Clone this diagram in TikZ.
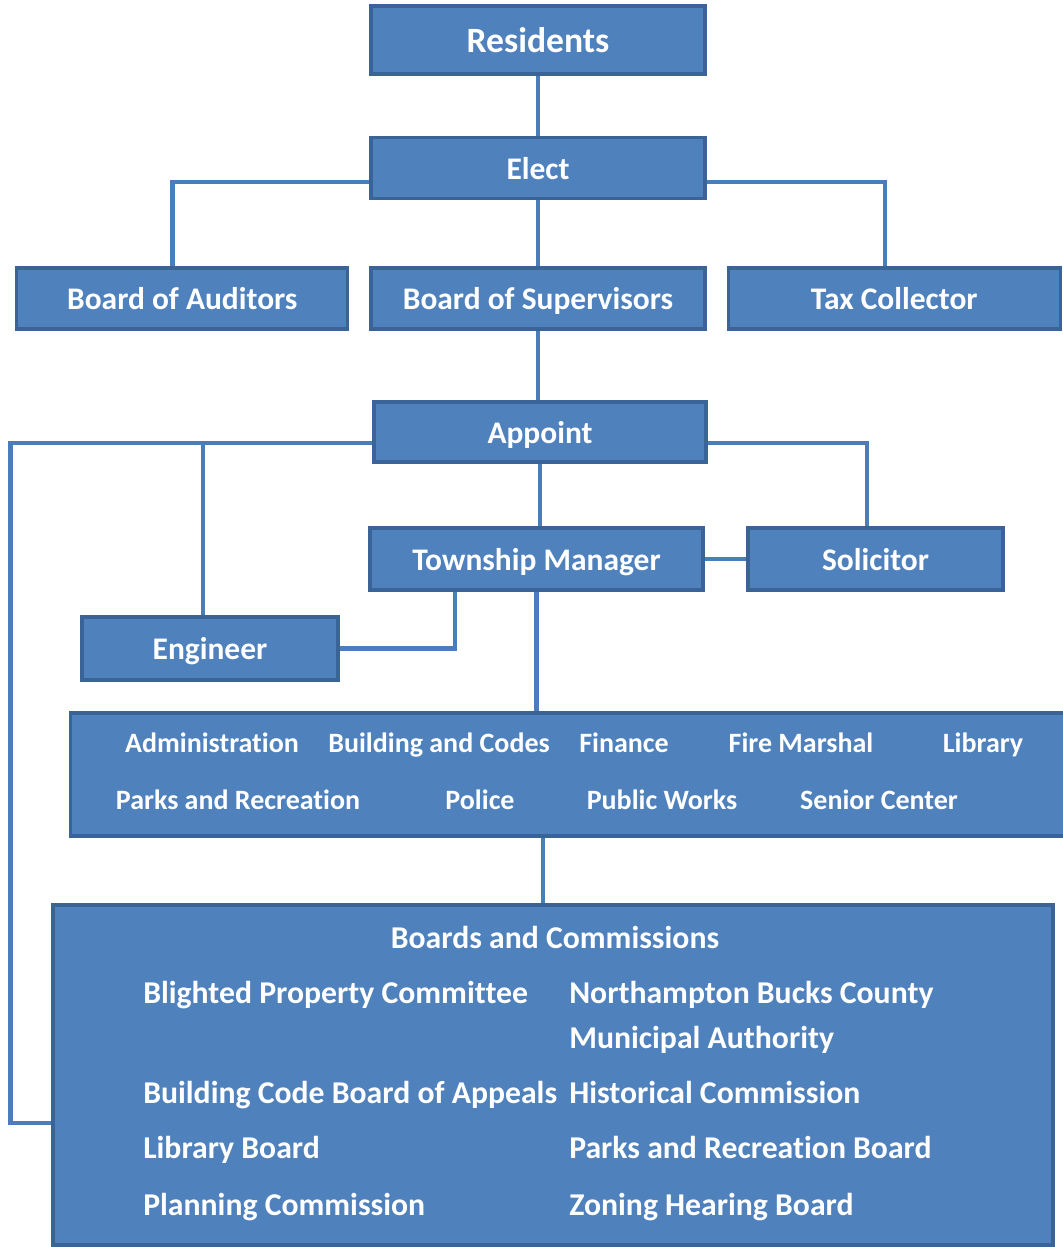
\documentclass[tikz,border=0pt]{standalone}
\usepackage{fontspec}
\setmainfont[Ligatures=NoCommon]{Carlito}
\usetikzlibrary{backgrounds,positioning}
\definecolor{orgfill}{HTML}{4F81BD}
\definecolor{orgline}{HTML}{3A6497}
\definecolor{orglink}{HTML}{4A7EBB}

\begin{document}
\begin{tikzpicture}[x=0.75pt,y=-0.75pt,node distance=15pt]
\tikzstyle{unit}=[rectangle,draw=orgline,fill=orgfill,line width=2.4pt,inner sep=0pt,
  text=white,text depth=0pt,font=\fontsize{23.6}{28}\selectfont\bfseries]
\tikzstyle{dept}=[text=white,inner sep=0pt,anchor=base,font=\fontsize{21}{25}\selectfont\bfseries]
\tikzstyle{brd}=[text=white,inner sep=0pt,anchor=base west,font=\fontsize{23.8}{28}\selectfont\bfseries]
\tikzstyle{link}=[draw=orglink,line width=3.4pt]

\useasboundingbox (0,0) rectangle (1063,1247);

% elected side
\node[unit,minimum width=250.5pt,minimum height=51pt,font=\fontsize{26.7}{31}\selectfont\bfseries] (residents) at (538,40) {Residents};
\node[unit,minimum width=250.5pt,minimum height=45.75pt] (elect) at (538,168) {Elect};
\node[unit,minimum width=250.5pt,minimum height=45.75pt] (supervisors) at (538,298.5) {Board of Supervisors};
\node[unit,minimum width=248.25pt,minimum height=45.75pt] (auditors) [left=of supervisors] {Board of Auditors};
\node[unit,minimum width=249pt,minimum height=45.75pt] (taxcoll) [right=of supervisors] {Tax Collector};

% appointed side
\node[unit,minimum width=249pt,minimum height=45pt] (appoint) at (540,432) {Appoint};
\node[unit,minimum width=249.75pt,minimum height=46.5pt] (manager) at (536.5,559) {Township Manager};
\node[unit,minimum width=191.25pt,minimum height=46.5pt] (solicitor) at (875.5,559) {Solicitor};
\node[unit,minimum width=192pt,minimum height=47.25pt] (engineer) at (210,648.5) {Engineer};

% departments
\node[unit,minimum width=748pt,minimum height=92.25pt] (depts) at (569.5,774.5) {};
\node[dept] (admin) at (212,752) {Administration};
\node[dept] (codes) at (439,752) {Building and Codes};
\node[dept] (finance) at (624,752) {Finance};
\node[dept] (fire) at (801,752) {Fire Marshal};
\node[dept] (library) at (983,752) {Library};
\node[dept] (parks) at (238,809) {Parks and Recreation};
\node[dept] (police) at (480,809) {Police};
\node[dept] (works) at (662,809) {Public Works};
\node[dept] (senior) at (879,809) {Senior Center};

% boards and commissions
\node[unit,minimum width=750pt,minimum height=255pt] (boards) at (553,1075) {};
\node[brd,anchor=base] (btitle) at (555,948) {Boards and Commissions};
\node[brd] (b1) at (143,1003) {Blighted Property Committee};
\node[brd] (b2) at (569,1003) {Northampton Bucks County};
\node[brd] (b2a) at (569,1048) {Municipal Authority};
\node[brd] (b3) at (143,1103) {Building Code Board of Appeals};
\node[brd] (b4) at (569,1103) {Historical Commission};
\node[brd] (b5) at (143,1158) {Library Board};
\node[brd] (b6) at (569,1158) {Parks and Recreation Board};
\node[brd] (b7) at (143,1215) {Planning Commission};
\node[brd] (b8) at (569,1215) {Zoning Hearing Board};

\begin{pgfonlayer}{background}
\path[link]
  (residents.south) -- (elect.north)
  ([yshift=-10.5pt]elect.west) -| ([xshift=-7.5pt]auditors.north)
  ([yshift=-10.5pt]elect.east) -| ([xshift=-6.75pt]taxcoll.north)
  (elect.south) -- (supervisors.north)
  (supervisors.south) -- (supervisors.south |- appoint.north)
  ([yshift=-8.25pt]appoint.west) -- ++(-362,0) |- ([yshift=-36pt]boards.west)
  ([xshift=-5.25pt]engineer.north) |- ([yshift=-8.25pt]appoint.west)
  ([yshift=-8.25pt]appoint.east) -| ([xshift=-6.4pt]solicitor.north)
  (appoint.south) -- (appoint.south |- manager.north)
  (manager.east) -- (solicitor.west)
  ([xshift=-61pt]manager.south) |- (engineer.east)
  (manager.south) -- (manager.south |- depts.north)
  ([xshift=-7.5pt]boards.north) -- ([xshift=-7.5pt]boards.north |- depts.south);
\end{pgfonlayer}
\end{tikzpicture}
\end{document}
